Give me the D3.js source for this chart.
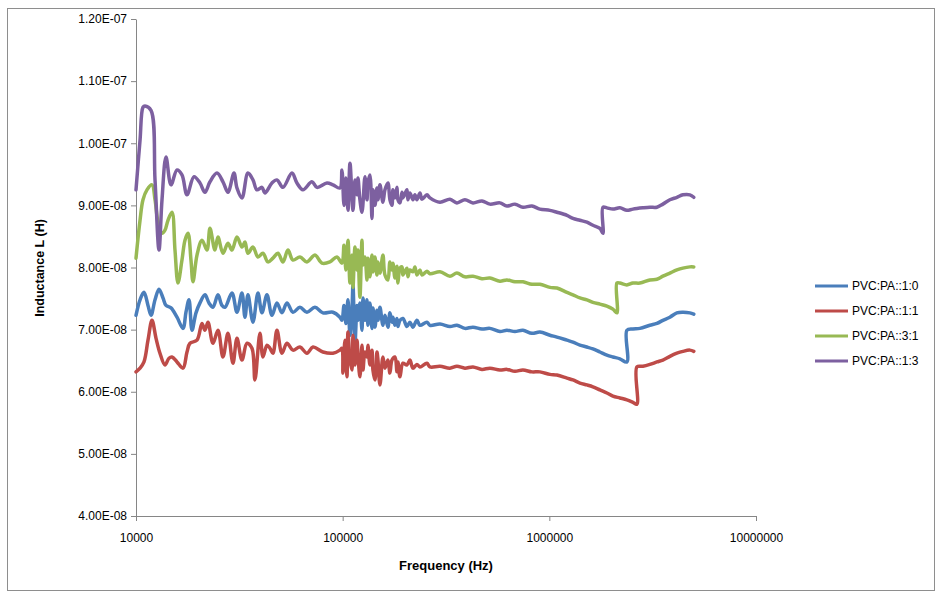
<!DOCTYPE html>
<html>
<head>
<meta charset="utf-8">
<script src="https://cdn.jsdelivr.net/npm/d3@7"></script>
<style>
body { margin: 0; background: #fff; }
</style>
</head>
<body>
<svg id="chart" width="938" height="594"></svg>
<script>
// values below are in units of 1e-8 H, frequencies in Hz
var UNIT = 1e-8;

var seriesNames = ["PVC:PA::1:0", "PVC:PA::1:1", "PVC:PA::3:1", "PVC:PA::1:3"];
var seriesColors = ["#4a7ebb", "#be4b48", "#98b954", "#7d60a0"];

var pa10 = [[10000,7.23],[10460,7.48],[10930,7.60],[11430,7.39],[11820,7.23],[12360,7.48],[12920,7.65],[13510,7.51],[13970,7.39],[14770,7.35],[15790,7.20],[16880,7.02],[17450,7.28],[18050,7.48],[18660,6.99],[19510,7.27],[20400,7.43],[21560,7.56],[22550,7.43],[23570,7.36],[24920,7.56],[26060,7.39],[26950,7.36],[29130,7.59],[30800,7.28],[32560,7.59],[33670,7.20],[34810,7.56],[36810,7.12],[38910,7.59],[40690,7.27],[43020,7.56],[45480,7.23],[48090,7.43],[50840,7.27],[53750,7.43],[57470,7.28],[62120,7.36],[67160,7.28],[73420,7.36],[80270,7.27],[89720,7.28],[96990,7.20],[99180,7.15],[101500,7.39],[103700,7.10],[106100,7.48],[108500,6.91],[110900,7.31],[112200,7.72],[114700,6.78],[117300,7.39],[118600,7.15],[121200,7.43],[124000,6.99],[125400,7.51],[128200,7.15],[131100,7.48],[132500,7.07],[135500,7.43],[138600,7.02],[140100,7.35],[143300,7.04],[146500,7.31],[148200,7.15],[151500,7.36],[156600,7.07],[160200,7.23],[165600,7.04],[169300,7.27],[173200,7.12],[175100,7.20],[179100,7.07],[183100,7.18],[185100,7.05],[189300,7.15],[195700,7.18],[204600,7.05],[211600,7.12],[218800,7.04],[228700,7.15],[236500,7.07],[255700,7.12],[264400,7.07],[295600,7.09],[330400,7.05],[357100,7.07],[390500,7.02],[426900,7.04],[471900,7.01],[515800,7.02],[576600,6.97],[623300,6.99],[681500,6.97],[745000,6.99],[823500,6.94],[900200,6.96],[1007000,6.91],[1088000,6.88],[1217000,6.83],[1301000,6.80],[1406000,6.75],[1520000,6.72],[1625000,6.69],[1757000,6.64],[1899000,6.59],[2031000,6.56],[2195000,6.53],[2373000,6.48],[2373000,6.99],[2537000,7.01],[2743000,7.02],[3066000,7.07],[3315000,7.10],[3544000,7.15],[3831000,7.20],[4142000,7.27],[4428000,7.28],[4787000,7.27],[5000000,7.25]];

var pa11 = [[10000,6.32],[10460,6.38],[10930,6.48],[11430,6.83],[11950,7.15],[12500,6.86],[13060,6.62],[13810,6.43],[14440,6.54],[14930,6.56],[15790,6.48],[16880,6.38],[17650,6.64],[18250,6.78],[19730,6.83],[20860,7.10],[21560,6.99],[22300,7.12],[23570,6.78],[24920,6.99],[26350,6.56],[27860,6.94],[29460,6.46],[30800,6.86],[32560,6.51],[34430,6.78],[36400,6.70],[37630,6.19],[39790,6.94],[41140,6.56],[43020,6.75],[44480,6.70],[45990,6.62],[48090,6.99],[50840,6.62],[53750,6.78],[57470,6.67],[62120,6.72],[67160,6.62],[71810,6.72],[80270,6.64],[89720,6.62],[96990,6.67],[99180,6.70],[100300,6.30],[102600,6.83],[104900,6.24],[106100,6.96],[108500,6.51],[110900,6.35],[112200,6.91],[114700,6.43],[117300,6.83],[118600,6.59],[121200,6.24],[124000,6.75],[125400,6.35],[128200,6.64],[131100,6.56],[132500,6.75],[135500,6.43],[138600,6.67],[140100,6.35],[143300,6.19],[146500,6.64],[148200,6.51],[151500,6.11],[156600,6.56],[160200,6.38],[165600,6.51],[169300,6.30],[173200,6.51],[179100,6.56],[183100,6.32],[185100,6.48],[189300,6.24],[195700,6.46],[204600,6.43],[211600,6.51],[218800,6.38],[228700,6.44],[236500,6.40],[255700,6.46],[264400,6.40],[295600,6.41],[330400,6.38],[357100,6.41],[390500,6.38],[426900,6.40],[471900,6.36],[515800,6.38],[576600,6.35],[623300,6.36],[681500,6.33],[745000,6.35],[823500,6.32],[900200,6.32],[1007000,6.28],[1088000,6.27],[1217000,6.22],[1301000,6.19],[1406000,6.14],[1520000,6.11],[1625000,6.08],[1757000,6.03],[1899000,5.98],[2031000,5.93],[2195000,5.90],[2373000,5.87],[2537000,5.83],[2653000,5.80],[2653000,6.40],[2836000,6.41],[3066000,6.44],[3315000,6.48],[3544000,6.51],[3831000,6.57],[4142000,6.62],[4428000,6.65],[4787000,6.67],[5000000,6.65]];

var pa31 = [[10000,8.15],[10460,8.76],[10810,9.09],[11300,9.25],[11950,9.33],[12360,9.09],[12780,8.73],[13360,8.55],[13810,8.60],[14280,8.76],[14930,8.89],[15440,8.28],[15960,7.75],[16690,8.12],[17260,8.44],[17850,8.55],[18450,8.12],[18870,7.77],[19730,8.20],[20860,8.44],[22050,8.28],[22800,8.63],[24100,8.28],[24920,8.49],[26350,8.23],[27860,8.39],[29130,8.28],[30800,8.49],[32560,8.33],[33670,8.41],[34810,8.23],[36810,8.33],[38910,8.17],[41140,8.23],[43500,8.09],[45990,8.15],[48620,8.23],[51410,8.09],[54350,8.28],[57470,8.12],[62120,8.17],[67160,8.09],[73420,8.20],[79370,8.07],[86770,8.09],[93810,8.17],[99180,8.07],[101500,8.36],[103700,7.96],[106100,8.44],[108500,7.75],[110900,8.20],[112200,7.68],[114700,8.33],[117300,7.96],[118600,8.28],[121200,7.52],[124000,8.44],[125400,8.04],[128200,8.17],[131100,7.80],[132500,8.15],[135500,7.85],[138600,8.20],[140100,7.93],[143300,8.17],[146500,7.88],[148200,8.09],[151500,7.91],[156600,8.20],[160200,7.88],[165600,7.80],[169300,8.09],[173200,7.96],[175100,8.07],[179100,7.83],[183100,8.02],[185100,7.75],[189300,7.99],[193600,8.01],[195700,7.88],[204600,7.99],[206900,7.85],[211600,7.96],[218800,7.93],[223700,8.01],[228700,7.88],[236500,7.96],[241900,7.88],[255700,7.94],[264400,7.90],[295600,7.93],[330400,7.86],[357100,7.91],[390500,7.85],[426900,7.86],[471900,7.82],[515800,7.83],[576600,7.78],[623300,7.80],[681500,7.77],[745000,7.77],[823500,7.73],[900200,7.73],[1007000,7.68],[1088000,7.67],[1217000,7.60],[1301000,7.56],[1406000,7.51],[1520000,7.48],[1625000,7.44],[1757000,7.41],[1899000,7.38],[2031000,7.33],[2123000,7.27],[2123000,7.75],[2195000,7.75],[2373000,7.72],[2537000,7.75],[2743000,7.75],[3066000,7.80],[3315000,7.81],[3544000,7.86],[3831000,7.91],[4142000,7.96],[4428000,7.99],[4787000,8.01],[5000000,8.01]];

var pa13 = [[10000,9.25],[10460,10.05],[10810,10.58],[11050,10.60],[11820,10.53],[12360,9.41],[12920,8.28],[13360,9.09],[13970,9.78],[14770,9.33],[15790,9.57],[16690,9.49],[17650,9.17],[19080,9.46],[20400,9.36],[21560,9.21],[22800,9.38],[24650,9.52],[26350,9.38],[27860,9.21],[29790,9.52],[30800,9.28],[32560,9.12],[34810,9.52],[36810,9.41],[38480,9.25],[40690,9.29],[42070,9.20],[45480,9.36],[48090,9.41],[51410,9.29],[56830,9.52],[60080,9.36],[64240,9.25],[71010,9.38],[75080,9.29],[83920,9.36],[89720,9.33],[96990,9.28],[99180,9.57],[101500,9.00],[103700,9.44],[106100,8.92],[108500,9.68],[112200,8.92],[114700,9.41],[117300,9.17],[118600,9.44],[121200,9.09],[124000,8.89],[128200,9.46],[131100,9.09],[132500,9.36],[135500,9.49],[138600,8.79],[140100,9.25],[143300,9.00],[146500,9.28],[148200,9.09],[151500,9.33],[156600,9.05],[160200,9.25],[165600,9.36],[169300,9.09],[173200,9.00],[175100,9.25],[179100,9.12],[183100,9.29],[185100,9.09],[189300,9.04],[193600,9.21],[195700,9.12],[204600,9.25],[206900,9.09],[211600,9.20],[218800,9.09],[223700,9.17],[228700,9.09],[236500,9.20],[241900,9.10],[255700,9.17],[264400,9.12],[295600,9.05],[330400,9.10],[357100,9.04],[390500,9.09],[426900,9.04],[471900,9.07],[515800,9.02],[576600,9.04],[623300,8.99],[681500,9.02],[745000,8.97],[823500,8.99],[900200,8.94],[1007000,8.92],[1088000,8.89],[1217000,8.84],[1301000,8.79],[1406000,8.76],[1520000,8.73],[1625000,8.68],[1757000,8.63],[1817000,8.55],[1817000,8.97],[1899000,8.96],[2031000,8.94],[2195000,8.96],[2373000,8.92],[2537000,8.94],[2836000,8.96],[3066000,8.97],[3315000,8.97],[3544000,9.02],[3831000,9.09],[4142000,9.13],[4428000,9.17],[4787000,9.17],[5000000,9.13]];

var seriesData = [pa10, pa11, pa31, pa13];

var xTicks = [1e4, 1e5, 1e6, 1e7];
var xTickLabels = ["10000", "100000", "1000000", "10000000"];
var yTicks = [4e-8, 5e-8, 6e-8, 7e-8, 8e-8, 9e-8, 1e-7, 1.1e-7, 1.2e-7];
var yTickLabels = ["4.00E-08", "5.00E-08", "6.00E-08", "7.00E-08", "8.00E-08", "9.00E-08", "1.00E-07", "1.10E-07", "1.20E-07"];

var font = "'Liberation Sans', Arial, sans-serif";
var axisColor = "#868686";

var svg = d3.select("#chart");

// chart frame
svg.append("rect")
	.attr("x", 7.5).attr("y", 8.5)
	.attr("width", 927).attr("height", 582)
	.attr("fill", "#fff")
	.attr("stroke", "#8e8e8e")
	.attr("stroke-width", 1);

var x = d3.scaleLog().domain([1e4, 1e7]).range([136, 756]);
var y = d3.scaleLinear().domain([4e-8, 1.2e-7]).range([516, 19]);

var gx = svg.append("g")
	.attr("transform", "translate(0,516)")
	.call(d3.axisBottom(x)
		.tickValues(xTicks)
		.tickFormat(function(d, i) { return xTickLabels[i]; })
		.tickSize(5)
		.tickSizeOuter(0)
		.tickPadding(12));

var gy = svg.append("g")
	.attr("transform", "translate(136,0)")
	.call(d3.axisLeft(y)
		.tickValues(yTicks)
		.tickFormat(function(d, i) { return yTickLabels[i]; })
		.tickSize(5)
		.tickSizeOuter(0)
		.tickPadding(4));

[gx, gy].forEach(function(g) {
	g.attr("font-family", font).attr("font-size", 12);
	g.selectAll("path, line").attr("stroke", axisColor);
	g.selectAll("text").attr("fill", "#000");
});

// series lines, smoothed like the spreadsheet's dense sweep
var line = d3.line()
	.curve(d3.curveCatmullRom.alpha(0.5))
	.x(function(d) { return x(d[0]); })
	.y(function(d) { return y(d[1] * UNIT); });

seriesData.forEach(function(data, i) {
	svg.append("path")
		.datum(data)
		.attr("fill", "none")
		.attr("stroke", seriesColors[i])
		.attr("stroke-width", 3.5)
		.attr("stroke-linejoin", "round")
		.attr("stroke-linecap", "round")
		.attr("d", line);
});

// axis titles
svg.append("text")
	.attr("x", 446).attr("y", 570)
	.attr("text-anchor", "middle")
	.attr("font-family", font).attr("font-size", 13).attr("font-weight", "bold")
	.text("Frequency (Hz)");

svg.append("text")
	.attr("transform", "translate(44,268) rotate(-90)")
	.attr("text-anchor", "middle")
	.attr("font-family", font).attr("font-size", 12.5).attr("font-weight", "bold")
	.text("Inductance L (H)");

// legend
var legend = svg.append("g").attr("transform", "translate(815,286)");
var items = legend.selectAll("g")
	.data(seriesNames)
	.enter()
	.append("g")
	.attr("transform", function(d, i) { return "translate(0," + i * 25 + ")"; });

items.append("line")
	.attr("x1", 0).attr("x2", 33)
	.attr("stroke", function(d, i) { return seriesColors[i]; })
	.attr("stroke-width", 3);

items.append("text")
	.attr("x", 37).attr("dy", "0.35em")
	.attr("font-family", font).attr("font-size", 12)
	.text(function(d) { return d; });
</script>
</body>
</html>
